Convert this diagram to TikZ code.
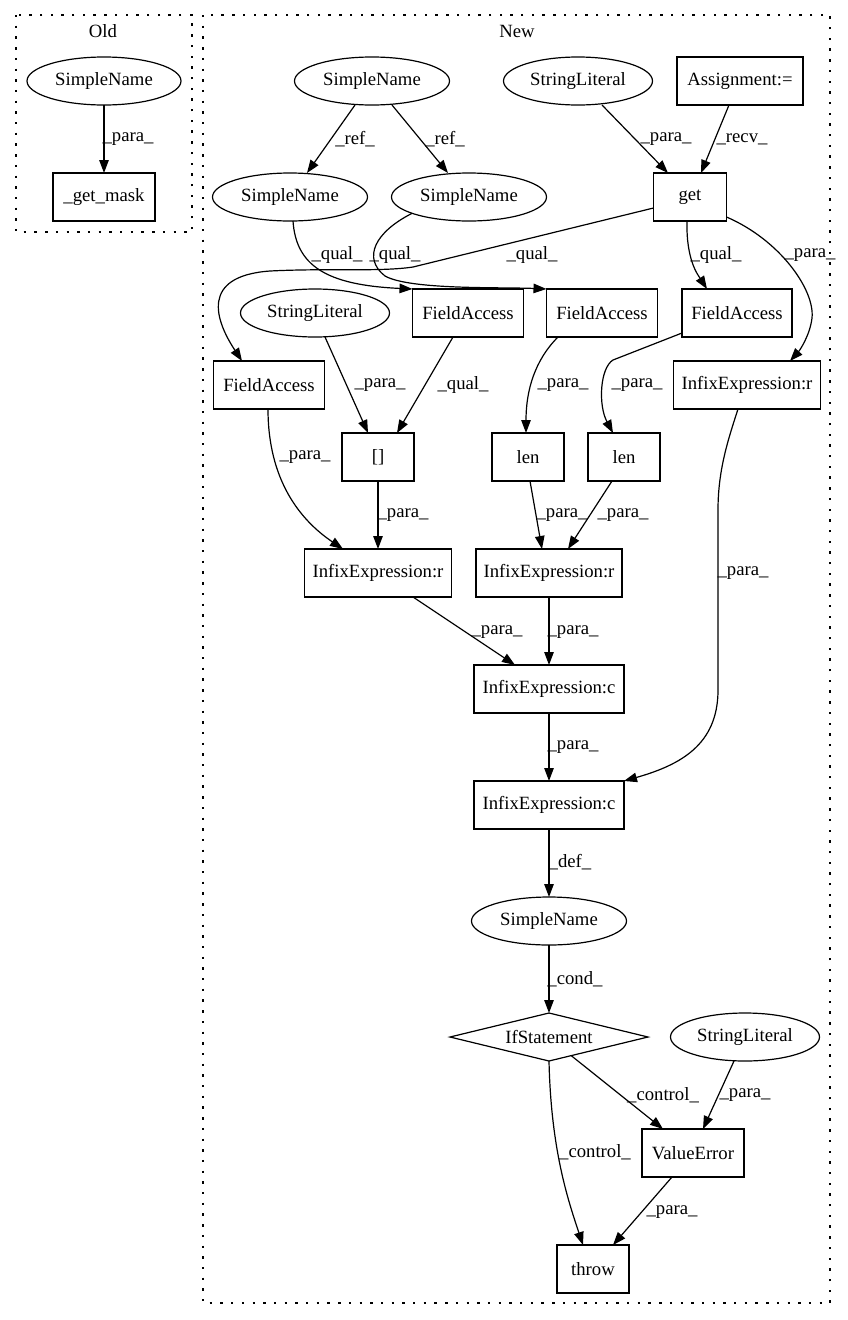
\documentclass[tikz,border=0pt]{standalone}
\usepackage{fontspec}
\setmainfont{Liberation Serif}
\usetikzlibrary{arrows.meta,shapes.geometric}

\begin{document}
\begin{tikzpicture}[x=1pt,y=-1pt,
        font=\fontsize{18.7pt}{22pt}\selectfont,
        every node/.style={inner sep=2pt,outer sep=0pt},
        ast/.style={draw,line width=1.2pt,ellipse,minimum width=#1,minimum height=48pt},
        ast/.default=155pt,
        box/.style={draw,line width=1.2pt,rectangle,minimum width=#1,minimum height=48pt},
        cond/.style={draw,line width=1.2pt,diamond,aspect=4.1,minimum width=198pt,minimum height=48pt},
        edge/.style={line width=1.2pt,-{Triangle[length=13pt,width=9.5pt]}},
        lbl/.style={inner sep=0pt},
        cluster/.style={line width=1.2pt,dash pattern=on 2.4pt off 8.3pt}]
        \useasboundingbox (0,0) rectangle (847,1320);

        % 两个子图的虚线框
        \draw[cluster] (16,15) rectangle (192,232);
        \draw[cluster] (203,15) rectangle (830,1303);
        \node (old) at (103,31) {Old};
        \node (new) at (517,31) {New};

        % 旧版本
        \node[ast=154pt] (sno) at (104,81) {SimpleName};
        \node[box=102pt] (gmask) at (104,197) {\_get\_mask};
        \draw[edge] (sno) -- (gmask);
        \node[lbl] (t0) at (128,139) {\_para\_};

        % 新版本：节点
        \node[ast] (sna) at (372,81) {SimpleName};
        \node[ast=149pt] (sla) at (578,81) {StringLiteral};
        \node[box=126pt] (asg) at (740,81) {Assignment:=};
        \node[ast] (snb) at (290,197) {SimpleName};
        \node[ast] (snc) at (469,197) {SimpleName};
        \node[box=73pt] (get) at (690,197) {get};
        \node[ast=149pt] (slb) at (315,313) {StringLiteral};
        \node[box=111pt] (faa) at (468,313) {FieldAccess};
        \node[box=111pt] (fab) at (602,313) {FieldAccess};
        \node[box=110pt] (fac) at (737,313) {FieldAccess};
        \node[box=111pt] (fad) at (269,385) {FieldAccess};
        \node[box=147pt] (irc) at (747,385) {InfixExpression:r};
        \node[box=72pt] (br) at (378,457) {[]};
        \node[box=72pt] (lena) at (528,457) {len};
        \node[box=72pt] (lenb) at (624,457) {len};
        \node[box=147pt] (ira) at (378,573) {InfixExpression:r};
        \node[box=146pt] (irb) at (549,573) {InfixExpression:r};
        \node[box=150pt] (ica) at (549,689) {InfixExpression:c};
        \node[box=150pt] (icb) at (549,805) {InfixExpression:c};
        \node[ast] (snd) at (549,921) {SimpleName};
        \node[cond] (ifs) at (549,1037) {IfStatement};
        \node[ast=149pt] (slc) at (745,1037) {StringLiteral};
        \node[box=102pt] (ve) at (693,1153) {ValueError};
        \node[box=72pt] (thr) at (593,1269) {throw};

        % 新版本：边
        \draw[edge] ([xshift=-17pt]sna.south) -- ([xshift=17pt]snb.north);
        \draw[edge] ([xshift=20pt]sna.south) -- ([xshift=-21pt]snc.north);
        \draw[edge] ([xshift=24pt]sla.south) -- ([xshift=-22pt]get.north);
        \draw[edge] ([xshift=-11pt]asg.south) -- ([xshift=11pt]get.north);
        \draw[edge] ([xshift=3pt]snb.south) .. controls (296,265) and (325,285) .. (faa.north west);
        \draw[edge] (snc.196) .. controls (375,232) and (362,258) .. (385,276)
            .. controls (410,290) and (500,287) .. (fab.north west);
        \draw[edge] ([yshift=-11pt]get.west) -- (413,267) .. controls (380,272) and (330,268) .. (270,271)
            .. controls (200,276) and (215,320) .. ([xshift=-27pt]fad.north);
        \draw[edge] ([xshift=-3pt]get.south) .. controls (686,260) and (698,275) .. ([xshift=-30pt]fac.north);
        \draw[edge] ([yshift=-20pt]get.east) .. controls (780,240) and (815,290) .. (812,318)
            .. controls (810,335) and (800,350) .. ([xshift=43pt]irc.north);
        \draw[edge] ([xshift=10pt]slb.south) -- ([xshift=-10pt]br.north);
        \draw[edge] ([xshift=-15pt]faa.south) -- ([xshift=19pt]br.north);
        \draw[edge] ([xshift=-44pt]fab.south) .. controls (535,360) and (526,390) .. ([xshift=-2pt]lena.north);
        \draw[edge] ([yshift=-20pt]fac.west) -- (613,360) .. controls (600,368) and (598,405) .. ([xshift=-11pt]lenb.north);
        \draw[edge] ([xshift=-1pt]fad.south) .. controls (268,480) and (300,520) .. ([xshift=-35pt]ira.north);
        \draw[edge] (br) -- (ira);
        \draw[edge] ([xshift=2pt]lena.south) -- ([xshift=-7pt]irb.north);
        \draw[edge] ([xshift=-12pt]lenb.south) -- ([xshift=19pt]irb.north);
        \draw[edge] ([xshift=35pt]ira.south) -- ([xshift=-34pt]ica.north);
        \draw[edge] (irb) -- (ica);
        \draw[edge] ([xshift=-9pt]irc.south) .. controls (728,440) and (718,470) .. (718,510) -- (718,690)
            .. controls (718,745) and (680,765) .. (icb.north east);
        \draw[edge] (ica) -- (icb);
        \draw[edge] (icb) -- (snd);
        \draw[edge] (snd) -- (ifs);
        \draw[edge] (ifs.-40) -- ([xshift=-30pt]ve.north);
        \draw[edge] ([xshift=-11pt]slc.south) -- ([xshift=10pt]ve.north);
        \draw[edge] (ifs.south) .. controls (551,1150) and (568,1200) .. ([xshift=-10pt]thr.north);
        \draw[edge] ([xshift=-21pt]ve.south) -- ([xshift=20pt]thr.north);

        % 边的标签
        \node[lbl] (t1) at (355,139) {\_ref\_};
        \node[lbl] (t2) at (445,139) {\_ref\_};
        \node[lbl] (t3) at (666,139) {\_para\_};
        \node[lbl] (t4) at (742,139) {\_recv\_};
        \node[lbl] (t5) at (337,255) {\_qual\_};
        \node[lbl] (t6) at (395,255) {\_qual\_};
        \node[lbl] (t7) at (532,255) {\_qual\_};
        \node[lbl] (t8) at (716,255) {\_qual\_};
        \node[lbl] (t9) at (810,255) {\_para\_};
        \node[lbl] (t10) at (380,385) {\_para\_};
        \node[lbl] (t11) at (463,385) {\_qual\_};
        \node[lbl] (t12) at (563,385) {\_para\_};
        \node[lbl] (t13) at (637,385) {\_para\_};
        \node[lbl] (t14) at (305,457) {\_para\_};
        \node[lbl] (t15) at (403,515) {\_para\_};
        \node[lbl] (t16) at (562,515) {\_para\_};
        \node[lbl] (t17) at (623,515) {\_para\_};
        \node[lbl] (t18) at (497,632) {\_para\_};
        \node[lbl] (t19) at (573,632) {\_para\_};
        \node[lbl] (t20) at (743,573) {\_para\_};
        \node[lbl] (t21) at (573,747) {\_para\_};
        \node[lbl] (t22) at (570,862) {\_def\_};
        \node[lbl] (t23) at (575,979) {\_cond\_};
        \node[lbl] (t24) at (663,1095) {\_control\_};
        \node[lbl] (t25) at (745,1095) {\_para\_};
        \node[lbl] (t26) at (595,1152) {\_control\_};
        \node[lbl] (t27) at (672,1212) {\_para\_};
    \end{tikzpicture}
\end{document}
